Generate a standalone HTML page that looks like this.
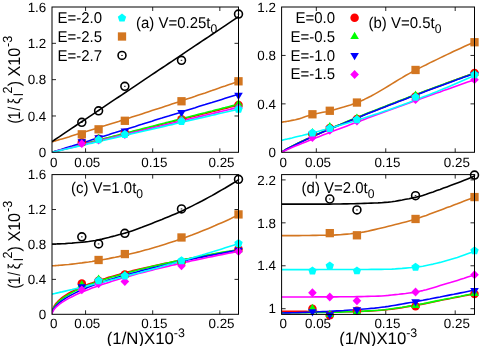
<!DOCTYPE html>
<html><head><meta charset="utf-8"><title>chart</title>
<style>
html,body{margin:0;padding:0;background:#fff;}
svg{display:block;will-change:transform;text-rendering:geometricPrecision;}
text{font-family:"Liberation Sans", sans-serif;fill:#000;}
.t{font-size:13.4px;}
.l{font-size:14.6px;}
</style></head>
<body>
<svg width="494" height="346" viewBox="0 0 494 346">
<rect width="494" height="346" fill="#fff"/>
<path d="M85.57 152.3v-4 M85.57 7v4 M152.7 152.3v-4 M152.7 7v4 M219.84 152.3v-4 M219.84 7v4 M52 115.98h4 M238.5 115.98h-4 M52 79.65h4 M238.5 79.65h-4 M52 43.33h4 M238.5 43.33h-4" stroke="#000" stroke-width="0.85" fill="none"/>
<text x="46.3" y="157" text-anchor="end" class="t">0</text>
<text x="46.3" y="120.68" text-anchor="end" class="t">0.4</text>
<text x="46.3" y="84.35" text-anchor="end" class="t">0.8</text>
<text x="46.3" y="48.03" text-anchor="end" class="t">1.2</text>
<text x="46.3" y="11.7" text-anchor="end" class="t">1.6</text>
<text x="53.7" y="166.8" text-anchor="middle" class="t">0</text>
<text x="87.27" y="166.8" text-anchor="middle" class="t">0.05</text>
<text x="154.4" y="166.8" text-anchor="middle" class="t">0.15</text>
<text x="221.54" y="166.8" text-anchor="middle" class="t">0.25</text>
<clipPath id="ca"><rect x="52" y="7" width="186.5" height="145.3"/></clipPath>
<g clip-path="url(#ca)">
<polyline points="52.0,152.3 52.0,152.3 52.2,152.3 52.3,152.2 52.6,152.1 53.0,152.0 53.4,151.9 53.9,151.8 54.4,151.7 55.1,151.5 55.3,151.4 55.8,151.3 56.6,151.1 57.5,150.9 58.4,150.6 58.7,150.6 59.5,150.3 62.0,149.7 65.3,148.8 68.7,148.0 72.0,147.1 75.3,146.3 78.6,145.4 82.0,144.6 85.3,143.7 88.6,142.9 92.0,142.0 95.3,141.2 98.6,140.3 102.0,139.5 105.3,138.6 108.6,137.8 111.9,136.9 115.3,136.1 118.6,135.3 121.9,134.4 125.3,133.6 128.6,132.7 131.9,131.9 135.3,131.0 138.6,130.2 141.9,129.4 145.2,128.5 148.6,127.7 151.9,126.8 155.2,126.0 158.6,125.2 161.9,124.3 165.2,123.5 168.6,122.6 171.9,121.8 175.2,121.0 178.6,120.1 181.9,119.3 185.2,118.5 188.5,117.6 191.9,116.8 195.2,115.9 198.5,115.1 201.9,114.3 205.2,113.4 208.5,112.6 211.9,111.8 215.2,110.9 218.5,110.1 221.8,109.3 225.2,108.4 228.5,107.6 231.8,106.7 235.2,105.9 238.5,105.1" fill="none" stroke="#ff0000" stroke-width="1.6" stroke-linejoin="round"/>
<polyline points="52.0,152.3 52.0,152.3 52.2,152.3 52.3,152.2 52.6,152.1 53.0,152.0 53.4,151.9 53.9,151.8 54.4,151.6 55.1,151.5 55.3,151.4 55.8,151.3 56.6,151.1 57.5,150.8 58.4,150.6 58.7,150.5 59.5,150.3 62.0,149.6 65.3,148.8 68.7,147.9 72.0,147.0 75.3,146.2 78.6,145.3 82.0,144.4 85.3,143.6 88.6,142.7 92.0,141.8 95.3,141.0 98.6,140.1 102.0,139.2 105.3,138.4 108.6,137.5 111.9,136.7 115.3,135.8 118.6,134.9 121.9,134.1 125.3,133.2 128.6,132.4 131.9,131.5 135.3,130.6 138.6,129.8 141.9,128.9 145.2,128.1 148.6,127.2 151.9,126.4 155.2,125.5 158.6,124.6 161.9,123.8 165.2,122.9 168.6,122.1 171.9,121.2 175.2,120.4 178.6,119.5 181.9,118.7 185.2,117.8 188.5,117.0 191.9,116.1 195.2,115.2 198.5,114.4 201.9,113.5 205.2,112.7 208.5,111.8 211.9,111.0 215.2,110.1 218.5,109.3 221.8,108.4 225.2,107.6 228.5,106.7 231.8,105.9 235.2,105.0 238.5,104.2" fill="none" stroke="#00ff00" stroke-width="1.6" stroke-linejoin="round"/>
<polyline points="52.0,152.3 52.0,152.3 52.2,152.3 52.3,152.2 52.6,152.1 53.0,152.0 53.4,151.9 53.9,151.7 54.4,151.5 55.1,151.3 55.3,151.3 55.8,151.1 56.6,150.9 57.5,150.6 58.4,150.3 58.7,150.2 59.5,150.0 62.0,149.2 65.3,148.1 68.7,147.1 72.0,146.1 75.3,145.0 78.6,144.0 82.0,143.0 85.3,141.9 88.6,140.9 92.0,139.8 95.3,138.8 98.6,137.8 102.0,136.7 105.3,135.7 108.6,134.7 111.9,133.6 115.3,132.6 118.6,131.5 121.9,130.5 125.3,129.5 128.6,128.4 131.9,127.4 135.3,126.4 138.6,125.3 141.9,124.3 145.2,123.2 148.6,122.2 151.9,121.2 155.2,120.1 158.6,119.1 161.9,118.1 165.2,117.0 168.6,116.0 171.9,114.9 175.2,113.9 178.6,112.9 181.9,111.8 185.2,110.8 188.5,109.7 191.9,108.7 195.2,107.7 198.5,106.6 201.9,105.6 205.2,104.6 208.5,103.5 211.9,102.5 215.2,101.4 218.5,100.4 221.8,99.4 225.2,98.3 228.5,97.3 231.8,96.3 235.2,95.2 238.5,94.2" fill="none" stroke="#0000ff" stroke-width="1.6" stroke-linejoin="round"/>
<polyline points="52.0,152.3 52.0,152.3 52.2,152.3 52.3,152.2 52.6,152.1 53.0,152.1 53.4,152.0 53.9,151.8 54.4,151.7 55.1,151.5 55.3,151.5 55.8,151.3 56.6,151.1 57.5,150.9 58.4,150.7 58.7,150.6 59.5,150.4 62.0,149.8 65.3,149.0 68.7,148.2 72.0,147.4 75.3,146.6 78.6,145.8 82.0,144.9 85.3,144.1 88.6,143.3 92.0,142.5 95.3,141.7 98.6,140.9 102.0,140.1 105.3,139.3 108.6,138.5 111.9,137.7 115.3,136.9 118.6,136.1 121.9,135.3 125.3,134.5 128.6,133.7 131.9,132.9 135.3,132.1 138.6,131.3 141.9,130.5 145.2,129.7 148.6,128.9 151.9,128.1 155.2,127.3 158.6,126.5 161.9,125.7 165.2,124.9 168.6,124.1 171.9,123.3 175.2,122.5 178.6,121.7 181.9,120.9 185.2,120.1 188.5,119.3 191.9,118.5 195.2,117.7 198.5,116.9 201.9,116.1 205.2,115.3 208.5,114.5 211.9,113.7 215.2,112.9 218.5,112.1 221.8,111.3 225.2,110.5 228.5,109.7 231.8,108.9 235.2,108.1 238.5,107.3" fill="none" stroke="#ff00ff" stroke-width="1.6" stroke-linejoin="round"/>
<polyline points="52.0,152.3 52.0,152.3 52.2,152.3 52.3,152.2 52.6,152.2 53.0,152.1 53.4,152.0 53.9,151.9 54.4,151.7 55.1,151.6 55.3,151.5 55.8,151.4 56.6,151.2 57.5,151.0 58.4,150.8 58.7,150.8 59.5,150.6 62.0,150.0 65.3,149.2 68.7,148.4 72.0,147.7 75.3,146.9 78.6,146.1 82.0,145.4 85.3,144.6 88.6,143.8 92.0,143.1 95.3,142.3 98.6,141.5 102.0,140.7 105.3,140.0 108.6,139.2 111.9,138.4 115.3,137.7 118.6,136.9 121.9,136.1 125.3,135.4 128.6,134.6 131.9,133.8 135.3,133.0 138.6,132.3 141.9,131.5 145.2,130.7 148.6,130.0 151.9,129.2 155.2,128.4 158.6,127.7 161.9,126.9 165.2,126.1 168.6,125.3 171.9,124.6 175.2,123.8 178.6,123.0 181.9,122.3 185.2,121.5 188.5,120.7 191.9,119.9 195.2,119.2 198.5,118.4 201.9,117.6 205.2,116.9 208.5,116.1 211.9,115.3 215.2,114.6 218.5,113.8 221.8,113.0 225.2,112.2 228.5,111.5 231.8,110.7 235.2,109.9 238.5,109.2" fill="none" stroke="#00ffff" stroke-width="1.6" stroke-linejoin="round"/>
<polyline points="52.0,141.9 52.0,141.8 52.2,141.8 52.3,141.8 52.6,141.7 53.0,141.6 53.4,141.4 53.9,141.3 54.4,141.1 55.1,140.9 55.3,140.9 55.8,140.7 56.6,140.5 57.5,140.2 58.4,139.9 58.7,139.9 59.5,139.6 62.0,138.9 65.3,137.9 68.7,136.9 72.0,135.8 75.3,134.8 78.6,133.8 82.0,132.8 85.3,131.8 88.6,130.7 92.0,129.7 95.3,128.7 98.6,127.6 102.0,126.6 105.3,125.6 108.6,124.5 111.9,123.5 115.3,122.4 118.6,121.4 121.9,120.3 125.3,119.2 128.6,118.2 131.9,117.1 135.3,116.0 138.6,115.0 141.9,113.9 145.2,112.8 148.6,111.7 151.9,110.6 155.2,109.6 158.6,108.5 161.9,107.4 165.2,106.3 168.6,105.2 171.9,104.1 175.2,103.0 178.6,101.9 181.9,100.7 185.2,99.6 188.5,98.5 191.9,97.4 195.2,96.3 198.5,95.1 201.9,94.0 205.2,92.9 208.5,91.7 211.9,90.6 215.2,89.4 218.5,88.3 221.8,87.1 225.2,86.0 228.5,84.8 231.8,83.7 235.2,82.5 238.5,81.3" fill="none" stroke="#d37620" stroke-width="1.6" stroke-linejoin="round"/>
<polyline points="52.0,141.6 52.0,141.6 52.2,141.5 52.3,141.4 52.6,141.2 53.0,140.9 53.4,140.7 53.9,140.3 54.4,140.0 55.1,139.5 55.3,139.4 55.8,139.0 56.6,138.5 57.5,137.9 58.4,137.3 58.7,137.1 59.5,136.6 62.0,134.9 65.3,132.7 68.7,130.4 72.0,128.2 75.3,126.0 78.6,123.7 82.0,121.5 85.3,119.3 88.6,117.1 92.0,114.8 95.3,112.6 98.6,110.4 102.0,108.1 105.3,105.9 108.6,103.7 111.9,101.4 115.3,99.2 118.6,97.0 121.9,94.8 125.3,92.5 128.6,90.3 131.9,88.1 135.3,85.8 138.6,83.6 141.9,81.4 145.2,79.1 148.6,76.9 151.9,74.7 155.2,72.5 158.6,70.2 161.9,68.0 165.2,65.8 168.6,63.5 171.9,61.3 175.2,59.1 178.6,56.8 181.9,54.6 185.2,52.4 188.5,50.2 191.9,47.9 195.2,45.7 198.5,43.5 201.9,41.2 205.2,39.0 208.5,36.8 211.9,34.5 215.2,32.3 218.5,30.1 221.8,27.9 225.2,25.6 228.5,23.4 231.8,21.2 235.2,18.9 238.5,16.7" fill="none" stroke="#000000" stroke-width="1.6" stroke-linejoin="round"/>
</g>
<circle cx="81.81" cy="142.13" r="4.25" fill="#ff0000"/>
<circle cx="98.59" cy="138.68" r="4.25" fill="#ff0000"/>
<circle cx="124.84" cy="132.78" r="4.25" fill="#ff0000"/>
<circle cx="181.5" cy="119.15" r="4.25" fill="#ff0000"/>
<circle cx="238.5" cy="105.08" r="4.25" fill="#ff0000"/>
<polygon points="81.81,137.91 77.51,145.21 86.11,145.21" fill="#00ff00"/>
<polygon points="98.59,133.83 94.29,141.13 102.89,141.13" fill="#00ff00"/>
<polygon points="124.84,128.38 120.54,135.68 129.14,135.68" fill="#00ff00"/>
<polygon points="181.5,113.4 177.2,120.7 185.8,120.7" fill="#00ff00"/>
<polygon points="238.5,99.32 234.2,106.62 242.8,106.62" fill="#00ff00"/>
<polygon points="81.81,146.62 77.51,139.32 86.11,139.32" fill="#0000ff"/>
<polygon points="98.59,142.62 94.29,135.32 102.89,135.32" fill="#0000ff"/>
<polygon points="124.84,135.81 120.54,128.51 129.14,128.51" fill="#0000ff"/>
<polygon points="181.5,117.19 177.2,109.89 185.8,109.89" fill="#0000ff"/>
<polygon points="238.5,100.12 234.2,92.82 242.8,92.82" fill="#0000ff"/>
<polygon points="81.81,139.22 86.12,143.67 81.81,148.12 77.49,143.67" fill="#ff00ff"/>
<polygon points="98.59,135.59 102.91,140.04 98.59,144.49 94.27,140.04" fill="#ff00ff"/>
<polygon points="124.84,130.14 129.16,134.59 124.84,139.04 120.52,134.59" fill="#ff00ff"/>
<polygon points="181.5,116.07 185.82,120.52 181.5,124.97 177.19,120.52" fill="#ff00ff"/>
<polygon points="238.5,103.35 242.82,107.8 238.5,112.25 234.18,107.8" fill="#ff00ff"/>
<polygon points="98.59,135.37 102.78,138.41 101.18,143.33 96.01,143.33 94.41,138.41" fill="#00ffff"/>
<polygon points="124.84,129.92 129.03,132.96 127.43,137.88 122.25,137.88 120.66,132.96" fill="#00ffff"/>
<polygon points="181.5,117.02 185.69,120.06 184.09,124.98 178.92,124.98 177.32,120.06" fill="#00ffff"/>
<polygon points="238.5,104.86 242.68,107.9 241.09,112.82 235.91,112.82 234.32,107.9" fill="#00ffff"/>
<rect x="77.66" y="130.17" width="8.3" height="8.3" fill="#d37620"/>
<rect x="94.44" y="125.18" width="8.3" height="8.3" fill="#d37620"/>
<rect x="120.69" y="116.64" width="8.3" height="8.3" fill="#d37620"/>
<rect x="177.35" y="97.11" width="8.3" height="8.3" fill="#d37620"/>
<rect x="234.35" y="77.14" width="8.3" height="8.3" fill="#d37620"/>
<circle cx="81.81" cy="122.33" r="3.95" fill="none" stroke="#000" stroke-width="1.6"/><rect x="81.01" y="121.88" width="1.6" height="0.9" fill="#000"/>
<circle cx="98.59" cy="110.8" r="3.95" fill="none" stroke="#000" stroke-width="1.6"/><rect x="97.79" y="110.35" width="1.6" height="0.9" fill="#000"/>
<circle cx="124.84" cy="86.28" r="3.95" fill="none" stroke="#000" stroke-width="1.6"/><rect x="124.04" y="85.83" width="1.6" height="0.9" fill="#000"/>
<circle cx="181.5" cy="60.31" r="3.95" fill="none" stroke="#000" stroke-width="1.6"/><rect x="180.7" y="59.86" width="1.6" height="0.9" fill="#000"/>
<circle cx="238.5" cy="14.09" r="3.95" fill="none" stroke="#000" stroke-width="1.6"/><rect x="237.7" y="13.64" width="1.6" height="0.9" fill="#000"/>
<rect x="52" y="7" width="186.5" height="145.3" fill="none" stroke="#000" stroke-width="1"/>
<path d="M316.32 152.3v-4 M316.32 7v4 M385.76 152.3v-4 M385.76 7v4 M455.2 152.3v-4 M455.2 7v4 M281.6 103.87h4 M474.5 103.87h-4 M281.6 55.44h4 M474.5 55.44h-4" stroke="#000" stroke-width="0.85" fill="none"/>
<text x="275.9" y="157" text-anchor="end" class="t">0</text>
<text x="275.9" y="108.57" text-anchor="end" class="t">0.4</text>
<text x="275.9" y="60.14" text-anchor="end" class="t">0.8</text>
<text x="275.9" y="11.7" text-anchor="end" class="t">1.2</text>
<text x="283.3" y="166.8" text-anchor="middle" class="t">0</text>
<text x="318.02" y="166.8" text-anchor="middle" class="t">0.05</text>
<text x="387.46" y="166.8" text-anchor="middle" class="t">0.15</text>
<text x="456.9" y="166.8" text-anchor="middle" class="t">0.25</text>
<clipPath id="cb"><rect x="281.6" y="7" width="192.9" height="145.3"/></clipPath>
<g clip-path="url(#cb)">
<polyline points="281.6,152.3 281.6,152.3 281.8,152.2 282.0,152.0 282.2,151.8 282.6,151.6 283.0,151.3 283.5,151.0 284.1,150.6 284.8,150.2 285.0,150.1 285.5,149.8 286.4,149.3 287.3,148.8 288.3,148.3 288.5,148.1 289.3,147.7 291.9,146.4 295.4,144.6 298.8,143.0 302.3,141.3 305.7,139.7 309.2,138.1 312.6,136.6 316.0,135.0 319.5,133.5 322.9,132.0 326.4,130.5 329.8,129.0 333.3,127.6 336.7,126.1 340.2,124.7 343.6,123.3 347.0,121.8 350.5,120.4 353.9,119.0 357.4,117.6 360.8,116.2 364.3,114.8 367.7,113.5 371.2,112.1 374.6,110.7 378.1,109.4 381.5,108.0 384.9,106.7 388.4,105.3 391.8,104.0 395.3,102.6 398.7,101.3 402.2,100.0 405.6,98.7 409.1,97.3 412.5,96.0 415.9,94.7 419.4,93.4 422.8,92.1 426.3,90.8 429.7,89.5 433.2,88.2 436.6,86.9 440.1,85.7 443.5,84.4 446.9,83.1 450.4,81.8 453.8,80.6 457.3,79.3 460.7,78.0 464.2,76.8 467.6,75.5 471.1,74.2 474.5,73.0" fill="none" stroke="#ff0000" stroke-width="1.6" stroke-linejoin="round"/>
<polyline points="281.6,152.3 281.6,152.3 281.8,152.1 282.0,152.0 282.2,151.8 282.6,151.5 283.0,151.2 283.5,150.9 284.1,150.5 284.8,150.1 285.0,150.0 285.5,149.7 286.4,149.2 287.3,148.7 288.3,148.1 288.5,148.0 289.3,147.6 291.9,146.2 295.4,144.4 298.8,142.7 302.3,141.1 305.7,139.4 309.2,137.9 312.6,136.3 316.0,134.7 319.5,133.2 322.9,131.7 326.4,130.2 329.8,128.7 333.3,127.3 336.7,125.8 340.2,124.4 343.6,122.9 347.0,121.5 350.5,120.1 353.9,118.7 357.4,117.3 360.8,115.9 364.3,114.5 367.7,113.1 371.2,111.8 374.6,110.4 378.1,109.1 381.5,107.7 384.9,106.4 388.4,105.0 391.8,103.7 395.3,102.4 398.7,101.1 402.2,99.7 405.6,98.4 409.1,97.1 412.5,95.8 415.9,94.5 419.4,93.2 422.8,91.9 426.3,90.6 429.7,89.4 433.2,88.1 436.6,86.8 440.1,85.5 443.5,84.3 446.9,83.0 450.4,81.7 453.8,80.5 457.3,79.2 460.7,78.0 464.2,76.7 467.6,75.5 471.1,74.2 474.5,73.0" fill="none" stroke="#00ff00" stroke-width="1.6" stroke-linejoin="round"/>
<polyline points="281.6,152.3 281.6,152.3 281.8,152.2 282.0,152.0 282.2,151.8 282.6,151.6 283.0,151.3 283.5,151.0 284.1,150.6 284.8,150.2 285.0,150.1 285.5,149.8 286.4,149.3 287.3,148.8 288.3,148.3 288.5,148.2 289.3,147.7 291.9,146.4 295.4,144.7 298.8,143.0 302.3,141.4 305.7,139.8 309.2,138.2 312.6,136.6 316.0,135.1 319.5,133.6 322.9,132.1 326.4,130.6 329.8,129.2 333.3,127.7 336.7,126.2 340.2,124.8 343.6,123.4 347.0,122.0 350.5,120.6 353.9,119.2 357.4,117.8 360.8,116.4 364.3,115.0 367.7,113.6 371.2,112.3 374.6,110.9 378.1,109.6 381.5,108.2 384.9,106.9 388.4,105.5 391.8,104.2 395.3,102.9 398.7,101.5 402.2,100.2 405.6,98.9 409.1,97.6 412.5,96.3 415.9,95.0 419.4,93.7 422.8,92.4 426.3,91.1 429.7,89.8 433.2,88.5 436.6,87.2 440.1,86.0 443.5,84.7 446.9,83.4 450.4,82.2 453.8,80.9 457.3,79.6 460.7,78.4 464.2,77.1 467.6,75.9 471.1,74.6 474.5,73.4" fill="none" stroke="#0000ff" stroke-width="1.6" stroke-linejoin="round"/>
<polyline points="281.6,152.3 281.6,152.3 281.8,152.2 282.0,152.1 282.2,152.0 282.6,151.8 283.0,151.6 283.5,151.3 284.1,151.0 284.8,150.7 285.0,150.6 285.5,150.4 286.4,150.0 287.3,149.6 288.3,149.2 288.5,149.1 289.3,148.7 291.9,147.6 295.4,146.1 298.8,144.7 302.3,143.3 305.7,141.9 309.2,140.5 312.6,139.2 316.0,137.8 319.5,136.4 322.9,135.1 326.4,133.8 329.8,132.4 333.3,131.1 336.7,129.8 340.2,128.5 343.6,127.2 347.0,125.9 350.5,124.6 353.9,123.3 357.4,122.0 360.8,120.7 364.3,119.4 367.7,118.1 371.2,116.8 374.6,115.6 378.1,114.3 381.5,113.0 384.9,111.8 388.4,110.5 391.8,109.2 395.3,108.0 398.7,106.7 402.2,105.5 405.6,104.2 409.1,103.0 412.5,101.7 415.9,100.5 419.4,99.3 422.8,98.0 426.3,96.8 429.7,95.6 433.2,94.3 436.6,93.1 440.1,91.9 443.5,90.6 446.9,89.4 450.4,88.2 453.8,87.0 457.3,85.7 460.7,84.5 464.2,83.3 467.6,82.1 471.1,80.9 474.5,79.7" fill="none" stroke="#ff00ff" stroke-width="1.6" stroke-linejoin="round"/>
<polyline points="281.6,140.3 281.6,140.3 281.8,140.3 282.0,140.2 282.2,140.2 282.6,140.1 283.0,140.0 283.5,139.9 284.1,139.8 284.8,139.6 285.0,139.5 285.5,139.4 286.4,139.2 287.3,139.0 288.3,138.8 288.5,138.8 289.3,138.6 291.9,138.0 295.4,137.1 298.8,136.3 302.3,135.5 305.7,134.6 309.2,133.8 312.6,132.9 316.0,132.0 319.5,131.1 322.9,130.1 326.4,129.2 329.8,128.2 333.3,127.3 336.7,126.3 340.2,125.3 343.6,124.3 347.0,123.3 350.5,122.2 353.9,121.2 357.4,120.1 360.8,119.0 364.3,117.9 367.7,116.8 371.2,115.7 374.6,114.6 378.1,113.4 381.5,112.2 384.9,111.1 388.4,109.9 391.8,108.7 395.3,107.4 398.7,106.2 402.2,104.9 405.6,103.7 409.1,102.4 412.5,101.1 415.9,99.8 419.4,98.5 422.8,97.1 426.3,95.8 429.7,94.4 433.2,93.0 436.6,91.7 440.1,90.2 443.5,88.8 446.9,87.4 450.4,85.9 453.8,84.5 457.3,83.0 460.7,81.5 464.2,80.0 467.6,78.5 471.1,76.9 474.5,75.4" fill="none" stroke="#00ffff" stroke-width="1.6" stroke-linejoin="round"/>
<polyline points="281.6,122.2 281.6,122.1 281.8,122.1 282.0,122.1 282.2,122.1 282.6,122.0 283.0,122.0 283.5,121.9 284.1,121.8 284.8,121.7 285.0,121.7 285.5,121.6 286.4,121.5 287.3,121.3 288.3,121.2 288.5,121.1 289.3,121.0 291.9,120.4 295.4,119.7 298.8,118.9 302.3,117.8 305.7,116.6 309.2,115.5 312.6,114.5 316.0,113.7 319.5,113.0 322.9,112.3 326.4,111.7 329.8,110.9 333.3,110.0 336.7,109.1 340.2,108.1 343.6,107.1 347.0,106.0 350.5,104.9 353.9,103.7 357.4,102.4 360.8,101.0 364.3,99.4 367.7,97.7 371.2,96.0 374.6,94.1 378.1,92.1 381.5,90.1 384.9,88.1 388.4,86.0 391.8,83.9 395.3,81.7 398.7,79.6 402.2,77.6 405.6,75.5 409.1,73.6 412.5,71.7 415.9,69.9 419.4,68.1 422.8,66.4 426.3,64.7 429.7,62.9 433.2,61.2 436.6,59.6 440.1,57.9 443.5,56.2 446.9,54.6 450.4,53.0 453.8,51.3 457.3,49.7 460.7,48.2 464.2,46.6 467.6,45.0 471.1,43.5 474.5,42.0" fill="none" stroke="#d37620" stroke-width="1.6" stroke-linejoin="round"/>
</g>
<circle cx="312.43" cy="134.14" r="4.25" fill="#ff0000"/>
<circle cx="329.79" cy="128.08" r="4.25" fill="#ff0000"/>
<circle cx="356.94" cy="119" r="4.25" fill="#ff0000"/>
<circle cx="415.55" cy="96.6" r="4.25" fill="#ff0000"/>
<circle cx="474.5" cy="72.99" r="4.25" fill="#ff0000"/>
<polygon points="312.43,128.08 308.13,135.38 316.73,135.38" fill="#00ff00"/>
<polygon points="329.79,122.02 325.49,129.32 334.09,129.32" fill="#00ff00"/>
<polygon points="356.94,113.55 352.64,120.85 361.24,120.85" fill="#00ff00"/>
<polygon points="415.55,90.54 411.25,97.84 419.85,97.84" fill="#00ff00"/>
<polygon points="474.5,68.75 470.2,76.05 478.8,76.05" fill="#00ff00"/>
<polygon points="312.43,139.59 308.13,132.29 316.73,132.29" fill="#0000ff"/>
<polygon points="329.79,133.54 325.49,126.24 334.09,126.24" fill="#0000ff"/>
<polygon points="356.94,124.46 352.64,117.16 361.24,117.16" fill="#0000ff"/>
<polygon points="415.55,102.06 411.25,94.76 419.85,94.76" fill="#0000ff"/>
<polygon points="474.5,79.66 470.2,72.36 478.8,72.36" fill="#0000ff"/>
<polygon points="312.43,133.08 316.75,137.53 312.43,141.98 308.11,137.53" fill="#ff00ff"/>
<polygon points="329.79,125.81 334.11,130.26 329.79,134.71 325.47,130.26" fill="#ff00ff"/>
<polygon points="356.94,116.61 361.26,121.06 356.94,125.51 352.62,121.06" fill="#ff00ff"/>
<polygon points="415.55,95.18 419.86,99.63 415.55,104.08 411.23,99.63" fill="#ff00ff"/>
<polygon points="474.5,75.2 478.82,79.65 474.5,84.1 470.18,79.65" fill="#ff00ff"/>
<polygon points="312.43,128.53 316.62,131.57 315.02,136.49 309.84,136.49 308.25,131.57" fill="#00ffff"/>
<polygon points="329.79,123.93 333.97,126.97 332.38,131.89 327.2,131.89 325.61,126.97" fill="#00ffff"/>
<polygon points="356.94,115.21 361.13,118.25 359.53,123.17 354.35,123.17 352.76,118.25" fill="#00ffff"/>
<polygon points="415.55,92.81 419.73,95.85 418.13,100.77 412.96,100.77 411.36,95.85" fill="#00ffff"/>
<polygon points="474.5,70.17 478.68,73.21 477.09,78.13 471.91,78.13 470.32,73.21" fill="#00ffff"/>
<rect x="308.28" y="110.13" width="8.3" height="8.3" fill="#d37620"/>
<rect x="325.64" y="106.62" width="8.3" height="8.3" fill="#d37620"/>
<rect x="352.79" y="98.39" width="8.3" height="8.3" fill="#d37620"/>
<rect x="411.4" y="65.82" width="8.3" height="8.3" fill="#d37620"/>
<rect x="470.35" y="38.09" width="8.3" height="8.3" fill="#d37620"/>
<rect x="281.6" y="7" width="192.9" height="145.3" fill="none" stroke="#000" stroke-width="1"/>
<path d="M85.57 314.3v-4 M85.57 174.6v4 M152.7 314.3v-4 M152.7 174.6v4 M219.84 314.3v-4 M219.84 174.6v4 M52 279.38h4 M238.5 279.38h-4 M52 244.45h4 M238.5 244.45h-4 M52 209.53h4 M238.5 209.53h-4" stroke="#000" stroke-width="0.85" fill="none"/>
<text x="46.3" y="319" text-anchor="end" class="t">0</text>
<text x="46.3" y="284.08" text-anchor="end" class="t">0.4</text>
<text x="46.3" y="249.15" text-anchor="end" class="t">0.8</text>
<text x="46.3" y="214.23" text-anchor="end" class="t">1.2</text>
<text x="46.3" y="179.3" text-anchor="end" class="t">1.6</text>
<text x="53.7" y="328.3" text-anchor="middle" class="t">0</text>
<text x="87.27" y="328.3" text-anchor="middle" class="t">0.05</text>
<text x="154.4" y="328.3" text-anchor="middle" class="t">0.15</text>
<text x="221.54" y="328.3" text-anchor="middle" class="t">0.25</text>
<clipPath id="cc"><rect x="52" y="174.6" width="186.5" height="139.7"/></clipPath>
<g clip-path="url(#cc)">
<polyline points="52.0,314.3 52.0,313.0 52.2,311.9 52.3,310.8 52.6,309.8 53.0,308.7 53.4,307.7 53.9,306.7 54.4,305.7 55.1,304.7 55.3,304.3 55.8,303.7 56.6,302.7 57.5,301.8 58.4,300.8 58.7,300.6 59.5,299.8 62.0,297.7 65.3,295.4 68.7,293.3 72.0,291.5 75.3,289.8 78.6,288.2 82.0,286.8 85.3,285.4 88.6,284.1 92.0,282.9 95.3,281.7 98.6,280.5 102.0,279.4 105.3,278.4 108.6,277.3 111.9,276.4 115.3,275.4 118.6,274.5 121.9,273.5 125.3,272.7 128.6,271.8 131.9,270.9 135.3,270.1 138.6,269.3 141.9,268.5 145.2,267.7 148.6,267.0 151.9,266.2 155.2,265.5 158.6,264.8 161.9,264.1 165.2,263.4 168.6,262.7 171.9,262.0 175.2,261.3 178.6,260.7 181.9,260.0 185.2,259.4 188.5,258.8 191.9,258.1 195.2,257.5 198.5,256.9 201.9,256.3 205.2,255.7 208.5,255.1 211.9,254.5 215.2,254.0 218.5,253.4 221.8,252.8 225.2,252.3 228.5,251.7 231.8,251.2 235.2,250.7 238.5,250.1" fill="none" stroke="#ff0000" stroke-width="1.6" stroke-linejoin="round"/>
<polyline points="52.0,314.3 52.0,313.3 52.2,312.3 52.3,311.3 52.6,310.4 53.0,309.4 53.4,308.5 53.9,307.5 54.4,306.6 55.1,305.6 55.3,305.3 55.8,304.7 56.6,303.7 57.5,302.8 58.4,301.9 58.7,301.6 59.5,300.9 62.0,298.9 65.3,296.5 68.7,294.5 72.0,292.6 75.3,290.9 78.6,289.3 82.0,287.8 85.3,286.4 88.6,285.1 92.0,283.8 95.3,282.6 98.6,281.5 102.0,280.3 105.3,279.2 108.6,278.2 111.9,277.1 115.3,276.2 118.6,275.2 121.9,274.2 125.3,273.3 128.6,272.4 131.9,271.5 135.3,270.7 138.6,269.8 141.9,269.0 145.2,268.2 148.6,267.4 151.9,266.6 155.2,265.8 158.6,265.0 161.9,264.3 165.2,263.6 168.6,262.8 171.9,262.1 175.2,261.4 178.6,260.7 181.9,260.0 185.2,259.4 188.5,258.7 191.9,258.0 195.2,257.4 198.5,256.7 201.9,256.1 205.2,255.5 208.5,254.8 211.9,254.2 215.2,253.6 218.5,253.0 221.8,252.4 225.2,251.8 228.5,251.2 231.8,250.7 235.2,250.1 238.5,249.5" fill="none" stroke="#00ff00" stroke-width="1.6" stroke-linejoin="round"/>
<polyline points="52.0,314.3 52.0,313.6 52.2,312.8 52.3,312.0 52.6,311.2 53.0,310.3 53.4,309.5 53.9,308.7 54.4,307.8 55.1,306.9 55.3,306.6 55.8,306.1 56.6,305.2 57.5,304.3 58.4,303.5 58.7,303.2 59.5,302.6 62.0,300.6 65.3,298.4 68.7,296.4 72.0,294.6 75.3,292.9 78.6,291.3 82.0,289.8 85.3,288.4 88.6,287.1 92.0,285.8 95.3,284.6 98.6,283.4 102.0,282.3 105.3,281.2 108.6,280.1 111.9,279.0 115.3,278.0 118.6,277.0 121.9,276.1 125.3,275.1 128.6,274.2 131.9,273.3 135.3,272.4 138.6,271.5 141.9,270.6 145.2,269.8 148.6,268.9 151.9,268.1 155.2,267.3 158.6,266.5 161.9,265.7 165.2,265.0 168.6,264.2 171.9,263.5 175.2,262.7 178.6,262.0 181.9,261.3 185.2,260.6 188.5,259.8 191.9,259.1 195.2,258.5 198.5,257.8 201.9,257.1 205.2,256.4 208.5,255.8 211.9,255.1 215.2,254.5 218.5,253.8 221.8,253.2 225.2,252.6 228.5,251.9 231.8,251.3 235.2,250.7 238.5,250.1" fill="none" stroke="#0000ff" stroke-width="1.6" stroke-linejoin="round"/>
<polyline points="52.0,314.3 52.0,313.8 52.2,313.2 52.3,312.6 52.6,311.9 53.0,311.2 53.4,310.5 53.9,309.7 54.4,309.0 55.1,308.2 55.3,307.9 55.8,307.4 56.6,306.7 57.5,305.9 58.4,305.1 58.7,304.9 59.5,304.2 62.0,302.4 65.3,300.3 68.7,298.4 72.0,296.7 75.3,295.0 78.6,293.5 82.0,292.1 85.3,290.7 88.6,289.4 92.0,288.1 95.3,286.9 98.6,285.7 102.0,284.6 105.3,283.5 108.6,282.4 111.9,281.3 115.3,280.3 118.6,279.3 121.9,278.3 125.3,277.3 128.6,276.4 131.9,275.4 135.3,274.5 138.6,273.6 141.9,272.7 145.2,271.9 148.6,271.0 151.9,270.2 155.2,269.3 158.6,268.5 161.9,267.7 165.2,266.9 168.6,266.1 171.9,265.3 175.2,264.6 178.6,263.8 181.9,263.0 185.2,262.3 188.5,261.6 191.9,260.8 195.2,260.1 198.5,259.4 201.9,258.7 205.2,258.0 208.5,257.3 211.9,256.6 215.2,255.9 218.5,255.2 221.8,254.6 225.2,253.9 228.5,253.2 231.8,252.6 235.2,251.9 238.5,251.3" fill="none" stroke="#ff00ff" stroke-width="1.6" stroke-linejoin="round"/>
<polyline points="52.0,294.1 52.0,294.1 52.2,294.1 52.3,294.1 52.6,294.0 53.0,293.9 53.4,293.8 53.9,293.7 54.4,293.6 55.1,293.4 55.3,293.4 55.8,293.3 56.6,293.1 57.5,292.9 58.4,292.7 58.7,292.6 59.5,292.4 62.0,291.9 65.3,291.1 68.7,290.3 72.0,289.6 75.3,288.8 78.6,288.0 82.0,287.2 85.3,286.4 88.6,285.6 92.0,284.8 95.3,284.0 98.6,283.2 102.0,282.3 105.3,281.5 108.6,280.7 111.9,279.8 115.3,279.0 118.6,278.1 121.9,277.3 125.3,276.4 128.6,275.5 131.9,274.6 135.3,273.8 138.6,272.9 141.9,272.0 145.2,271.1 148.6,270.2 151.9,269.3 155.2,268.4 158.6,267.4 161.9,266.5 165.2,265.6 168.6,264.6 171.9,263.7 175.2,262.7 178.6,261.8 181.9,260.8 185.2,259.9 188.5,258.9 191.9,257.9 195.2,256.9 198.5,255.9 201.9,255.0 205.2,254.0 208.5,252.9 211.9,251.9 215.2,250.9 218.5,249.9 221.8,248.9 225.2,247.8 228.5,246.8 231.8,245.8 235.2,244.7 238.5,243.7" fill="none" stroke="#00ffff" stroke-width="1.6" stroke-linejoin="round"/>
<polyline points="52.0,265.8 52.0,265.8 52.2,265.8 52.3,265.8 52.6,265.8 53.0,265.8 53.4,265.8 53.9,265.7 54.4,265.7 55.1,265.6 55.3,265.6 55.8,265.6 56.6,265.5 57.5,265.5 58.4,265.4 58.7,265.4 59.5,265.3 62.0,265.1 65.3,264.8 68.7,264.5 72.0,264.1 75.3,263.7 78.6,263.3 82.0,262.9 85.3,262.4 88.6,262.0 92.0,261.5 95.3,260.9 98.6,260.4 102.0,259.8 105.3,259.2 108.6,258.6 111.9,257.9 115.3,257.3 118.6,256.6 121.9,255.8 125.3,255.1 128.6,254.3 131.9,253.5 135.3,252.7 138.6,251.9 141.9,251.0 145.2,250.1 148.6,249.2 151.9,248.2 155.2,247.3 158.6,246.3 161.9,245.2 165.2,244.2 168.6,243.1 171.9,242.0 175.2,240.9 178.6,239.8 181.9,238.6 185.2,237.4 188.5,236.2 191.9,235.0 195.2,233.7 198.5,232.4 201.9,231.1 205.2,229.7 208.5,228.4 211.9,227.0 215.2,225.6 218.5,224.1 221.8,222.7 225.2,221.2 228.5,219.7 231.8,218.1 235.2,216.6 238.5,215.0" fill="none" stroke="#d37620" stroke-width="1.6" stroke-linejoin="round"/>
<polyline points="52.0,244.0 52.0,244.0 52.2,244.0 52.3,244.0 52.6,244.0 53.0,244.0 53.4,244.0 53.9,244.0 54.4,244.0 55.1,244.0 55.3,244.0 55.8,244.0 56.6,244.0 57.5,243.9 58.4,243.9 58.7,243.9 59.5,243.9 62.0,243.8 65.3,243.6 68.7,243.3 72.0,243.1 75.3,242.8 78.6,242.5 82.0,242.2 85.3,241.9 88.6,241.5 92.0,241.0 95.3,240.5 98.6,239.8 102.0,239.1 105.3,238.3 108.6,237.5 111.9,236.6 115.3,235.8 118.6,234.8 121.9,233.9 125.3,233.0 128.6,232.0 131.9,230.9 135.3,229.7 138.6,228.5 141.9,227.3 145.2,226.0 148.6,224.7 151.9,223.4 155.2,222.1 158.6,220.8 161.9,219.5 165.2,218.1 168.6,216.7 171.9,215.3 175.2,213.9 178.6,212.4 181.9,210.9 185.2,209.4 188.5,207.8 191.9,206.1 195.2,204.4 198.5,202.7 201.9,201.0 205.2,199.2 208.5,197.4 211.9,195.6 215.2,193.7 218.5,191.8 221.8,189.9 225.2,188.0 228.5,186.0 231.8,184.0 235.2,181.9 238.5,179.8" fill="none" stroke="#000000" stroke-width="1.6" stroke-linejoin="round"/>
</g>
<circle cx="81.81" cy="283.48" r="4.25" fill="#ff0000"/>
<circle cx="98.59" cy="280.69" r="4.25" fill="#ff0000"/>
<circle cx="124.84" cy="274.57" r="4.25" fill="#ff0000"/>
<circle cx="181.5" cy="261.91" r="4.25" fill="#ff0000"/>
<circle cx="238.5" cy="249.25" r="4.25" fill="#ff0000"/>
<polygon points="81.81,279.94 77.51,287.24 86.11,287.24" fill="#00ff00"/>
<polygon points="98.59,274.53 94.29,281.83 102.89,281.83" fill="#00ff00"/>
<polygon points="124.84,270.16 120.54,277.46 129.14,277.46" fill="#00ff00"/>
<polygon points="181.5,257.06 177.2,264.36 185.8,264.36" fill="#00ff00"/>
<polygon points="238.5,244.84 234.2,252.14 242.8,252.14" fill="#00ff00"/>
<polygon points="81.81,291.65 77.51,284.35 86.11,284.35" fill="#0000ff"/>
<polygon points="98.59,286.85 94.29,279.55 102.89,279.55" fill="#0000ff"/>
<polygon points="124.84,280.73 120.54,273.43 129.14,273.43" fill="#0000ff"/>
<polygon points="181.5,267.64 177.2,260.34 185.8,260.34" fill="#0000ff"/>
<polygon points="238.5,254.98 234.2,247.68 242.8,247.68" fill="#0000ff"/>
<polygon points="81.81,285.4 86.12,289.85 81.81,294.3 77.49,289.85" fill="#ff00ff"/>
<polygon points="98.59,279.29 102.91,283.74 98.59,288.19 94.27,283.74" fill="#ff00ff"/>
<polygon points="124.84,277.11 129.16,281.56 124.84,286.01 120.52,281.56" fill="#ff00ff"/>
<polygon points="181.5,261.39 185.82,265.84 181.5,270.29 177.19,265.84" fill="#ff00ff"/>
<polygon points="238.5,246.99 242.82,251.44 238.5,255.89 234.18,251.44" fill="#ff00ff"/>
<polygon points="98.59,276.29 102.78,279.33 101.18,284.25 96.01,284.25 94.41,279.33" fill="#00ffff"/>
<polygon points="124.84,271.48 129.03,274.52 127.43,279.44 122.25,279.44 120.66,274.52" fill="#00ffff"/>
<polygon points="181.5,256.2 185.69,259.24 184.09,264.16 178.92,264.16 177.32,259.24" fill="#00ffff"/>
<polygon points="238.5,239 242.68,242.04 241.09,246.96 235.91,246.96 234.32,242.04" fill="#00ffff"/>
<rect x="94.44" y="255.84" width="8.3" height="8.3" fill="#d37620"/>
<rect x="120.69" y="249.91" width="8.3" height="8.3" fill="#d37620"/>
<rect x="177.35" y="233.32" width="8.3" height="8.3" fill="#d37620"/>
<rect x="234.35" y="210.27" width="8.3" height="8.3" fill="#d37620"/>
<circle cx="81.81" cy="236.86" r="3.95" fill="none" stroke="#000" stroke-width="1.6"/><rect x="81.01" y="236.41" width="1.6" height="0.9" fill="#000"/>
<circle cx="98.59" cy="243.93" r="3.95" fill="none" stroke="#000" stroke-width="1.6"/><rect x="97.79" y="243.48" width="1.6" height="0.9" fill="#000"/>
<circle cx="124.84" cy="233.28" r="3.95" fill="none" stroke="#000" stroke-width="1.6"/><rect x="124.04" y="232.83" width="1.6" height="0.9" fill="#000"/>
<circle cx="181.5" cy="208.92" r="3.95" fill="none" stroke="#000" stroke-width="1.6"/><rect x="180.7" y="208.47" width="1.6" height="0.9" fill="#000"/>
<circle cx="238.5" cy="179.32" r="3.95" fill="none" stroke="#000" stroke-width="1.6"/><rect x="237.7" y="178.87" width="1.6" height="0.9" fill="#000"/>
<rect x="52" y="174.6" width="186.5" height="139.7" fill="none" stroke="#000" stroke-width="1"/>
<path d="M316.32 314.4v-4 M316.32 174.6v4 M385.76 314.4v-4 M385.76 174.6v4 M455.2 314.4v-4 M455.2 174.6v4 M281.6 308.7h4 M474.5 308.7h-4 M281.6 265.77h4 M474.5 265.77h-4 M281.6 222.84h4 M474.5 222.84h-4 M281.6 179.9h4 M474.5 179.9h-4" stroke="#000" stroke-width="0.85" fill="none"/>
<text x="275.9" y="313.4" text-anchor="end" class="t">1</text>
<text x="275.9" y="270.47" text-anchor="end" class="t">1.4</text>
<text x="275.9" y="227.54" text-anchor="end" class="t">1.8</text>
<text x="275.9" y="184.6" text-anchor="end" class="t">2.2</text>
<text x="283.3" y="328.4" text-anchor="middle" class="t">0</text>
<text x="318.02" y="328.4" text-anchor="middle" class="t">0.05</text>
<text x="387.46" y="328.4" text-anchor="middle" class="t">0.15</text>
<text x="456.9" y="328.4" text-anchor="middle" class="t">0.25</text>
<clipPath id="cd"><rect x="281.6" y="174.6" width="192.9" height="139.8"/></clipPath>
<g clip-path="url(#cd)">
<polyline points="281.6,311.3 281.6,311.3 281.8,311.3 282.0,311.3 282.2,311.3 282.6,311.3 283.0,311.3 283.5,311.3 284.1,311.3 284.8,311.3 285.0,311.3 285.5,311.3 286.4,311.3 287.3,311.3 288.3,311.3 288.5,311.3 289.3,311.3 291.9,311.3 295.4,311.3 298.8,311.4 302.3,311.4 305.7,311.4 309.2,311.5 312.6,311.5 316.0,311.6 319.5,311.7 322.9,311.8 326.4,311.9 329.8,311.9 333.3,311.9 336.7,311.9 340.2,311.8 343.6,311.8 347.0,311.7 350.5,311.6 353.9,311.6 357.4,311.5 360.8,311.4 364.3,311.3 367.7,311.1 371.2,310.9 374.6,310.7 378.1,310.5 381.5,310.3 384.9,309.9 388.4,309.5 391.8,309.1 395.3,308.6 398.7,308.1 402.2,307.6 405.6,307.0 409.1,306.4 412.5,305.9 415.9,305.3 419.4,304.7 422.8,304.1 426.3,303.4 429.7,302.7 433.2,302.0 436.6,301.2 440.1,300.5 443.5,299.8 446.9,299.2 450.4,298.5 453.8,297.8 457.3,297.1 460.7,296.5 464.2,295.8 467.6,295.1 471.1,294.4 474.5,293.8" fill="none" stroke="#ff0000" stroke-width="1.6" stroke-linejoin="round"/>
<polyline points="281.6,312.8 281.6,312.8 281.8,312.8 282.0,312.8 282.2,312.8 282.6,312.8 283.0,312.8 283.5,312.8 284.1,312.8 284.8,312.8 285.0,312.8 285.5,312.8 286.4,312.8 287.3,312.8 288.3,312.8 288.5,312.8 289.3,312.8 291.9,312.8 295.4,312.7 298.8,312.7 302.3,312.7 305.7,312.7 309.2,312.6 312.6,312.6 316.0,312.5 319.5,312.5 322.9,312.4 326.4,312.4 329.8,312.3 333.3,312.3 336.7,312.2 340.2,312.1 343.6,311.9 347.0,311.8 350.5,311.7 353.9,311.5 357.4,311.4 360.8,311.2 364.3,311.1 367.7,310.9 371.2,310.7 374.6,310.5 378.1,310.3 381.5,310.0 384.9,309.7 388.4,309.3 391.8,308.8 395.3,308.3 398.7,307.8 402.2,307.3 405.6,306.7 409.1,306.1 412.5,305.6 415.9,305.0 419.4,304.4 422.8,303.7 426.3,303.1 429.7,302.4 433.2,301.6 436.6,300.9 440.1,300.2 443.5,299.5 446.9,298.8 450.4,298.2 453.8,297.5 457.3,296.8 460.7,296.2 464.2,295.5 467.6,294.8 471.1,294.2 474.5,293.5" fill="none" stroke="#00ff00" stroke-width="1.6" stroke-linejoin="round"/>
<polyline points="281.6,313.0 281.6,313.0 281.8,313.0 282.0,313.0 282.2,313.0 282.6,313.0 283.0,313.0 283.5,313.0 284.1,313.0 284.8,312.9 285.0,312.9 285.5,312.9 286.4,312.9 287.3,312.9 288.3,312.9 288.5,312.9 289.3,312.9 291.9,312.8 295.4,312.7 298.8,312.6 302.3,312.5 305.7,312.4 309.2,312.3 312.6,312.1 316.0,312.0 319.5,311.8 322.9,311.6 326.4,311.5 329.8,311.3 333.3,311.1 336.7,310.9 340.2,310.7 343.6,310.5 347.0,310.2 350.5,310.0 353.9,309.8 357.4,309.5 360.8,309.3 364.3,309.0 367.7,308.7 371.2,308.4 374.6,308.1 378.1,307.7 381.5,307.3 384.9,306.9 388.4,306.4 391.8,305.8 395.3,305.2 398.7,304.6 402.2,304.0 405.6,303.4 409.1,302.8 412.5,302.2 415.9,301.5 419.4,300.9 422.8,300.3 426.3,299.6 429.7,299.0 433.2,298.3 436.6,297.6 440.1,297.0 443.5,296.3 446.9,295.6 450.4,294.9 453.8,294.3 457.3,293.6 460.7,292.9 464.2,292.2 467.6,291.5 471.1,290.8 474.5,290.1" fill="none" stroke="#0000ff" stroke-width="1.6" stroke-linejoin="round"/>
<polyline points="281.6,297.0 281.6,297.0 281.8,297.0 282.0,297.0 282.2,297.0 282.6,297.0 283.0,297.0 283.5,297.0 284.1,297.0 284.8,297.0 285.0,297.0 285.5,297.0 286.4,297.0 287.3,297.0 288.3,297.0 288.5,297.0 289.3,297.0 291.9,297.0 295.4,297.0 298.8,297.0 302.3,297.0 305.7,297.0 309.2,297.0 312.6,297.0 316.0,296.9 319.5,296.9 322.9,296.9 326.4,296.9 329.8,296.9 333.3,296.9 336.7,296.9 340.2,296.8 343.6,296.8 347.0,296.8 350.5,296.7 353.9,296.7 357.4,296.6 360.8,296.6 364.3,296.5 367.7,296.4 371.2,296.3 374.6,296.2 378.1,296.1 381.5,296.0 384.9,295.7 388.4,295.4 391.8,295.0 395.3,294.6 398.7,294.3 402.2,293.9 405.6,293.5 409.1,293.0 412.5,292.6 415.9,292.0 419.4,291.3 422.8,290.6 426.3,289.7 429.7,288.7 433.2,287.7 436.6,286.7 440.1,285.6 443.5,284.6 446.9,283.6 450.4,282.6 453.8,281.5 457.3,280.4 460.7,279.3 464.2,278.2 467.6,277.0 471.1,275.9 474.5,274.7" fill="none" stroke="#ff00ff" stroke-width="1.6" stroke-linejoin="round"/>
<polyline points="281.6,269.6 281.6,269.6 281.8,269.6 282.0,269.6 282.2,269.6 282.6,269.6 283.0,269.6 283.5,269.6 284.1,269.6 284.8,269.6 285.0,269.6 285.5,269.6 286.4,269.6 287.3,269.6 288.3,269.6 288.5,269.6 289.3,269.6 291.9,269.6 295.4,269.6 298.8,269.6 302.3,269.6 305.7,269.6 309.2,269.6 312.6,269.6 316.0,269.6 319.5,269.5 322.9,269.5 326.4,269.5 329.8,269.5 333.3,269.5 336.7,269.5 340.2,269.5 343.6,269.5 347.0,269.5 350.5,269.5 353.9,269.5 357.4,269.5 360.8,269.5 364.3,269.5 367.7,269.5 371.2,269.4 374.6,269.4 378.1,269.4 381.5,269.4 384.9,269.3 388.4,269.2 391.8,269.1 395.3,268.9 398.7,268.6 402.2,268.4 405.6,268.1 409.1,267.8 412.5,267.5 415.9,267.1 419.4,266.7 422.8,266.2 426.3,265.5 429.7,264.8 433.2,264.1 436.6,263.2 440.1,262.4 443.5,261.5 446.9,260.6 450.4,259.6 453.8,258.6 457.3,257.5 460.7,256.3 464.2,255.0 467.6,253.7 471.1,252.4 474.5,251.0" fill="none" stroke="#00ffff" stroke-width="1.6" stroke-linejoin="round"/>
<polyline points="281.6,235.6 281.6,235.6 281.8,235.6 282.0,235.6 282.2,235.6 282.6,235.6 283.0,235.6 283.5,235.6 284.1,235.6 284.8,235.6 285.0,235.6 285.5,235.6 286.4,235.6 287.3,235.6 288.3,235.6 288.5,235.6 289.3,235.6 291.9,235.6 295.4,235.6 298.8,235.6 302.3,235.5 305.7,235.5 309.2,235.5 312.6,235.4 316.0,235.4 319.5,235.3 322.9,235.3 326.4,235.2 329.8,235.2 333.3,235.1 336.7,234.9 340.2,234.7 343.6,234.4 347.0,234.1 350.5,233.8 353.9,233.4 357.4,233.0 360.8,232.5 364.3,231.9 367.7,231.2 371.2,230.4 374.6,229.6 378.1,228.8 381.5,228.0 384.9,227.2 388.4,226.3 391.8,225.5 395.3,224.6 398.7,223.7 402.2,222.8 405.6,221.9 409.1,220.9 412.5,219.9 415.9,218.9 419.4,217.8 422.8,216.6 426.3,215.4 429.7,214.1 433.2,212.8 436.6,211.5 440.1,210.2 443.5,208.9 446.9,207.6 450.4,206.4 453.8,205.1 457.3,203.8 460.7,202.4 464.2,201.1 467.6,199.8 471.1,198.4 474.5,197.1" fill="none" stroke="#d37620" stroke-width="1.6" stroke-linejoin="round"/>
<polyline points="281.6,204.1 281.6,204.1 281.8,204.1 282.0,204.1 282.2,204.1 282.6,204.1 283.0,204.1 283.5,204.1 284.1,204.1 284.8,204.1 285.0,204.1 285.5,204.1 286.4,204.1 287.3,204.1 288.3,204.1 288.5,204.1 289.3,204.1 291.9,204.1 295.4,204.1 298.8,204.1 302.3,204.1 305.7,204.1 309.2,204.1 312.6,204.1 316.0,204.1 319.5,204.1 322.9,204.1 326.4,204.1 329.8,204.1 333.3,204.0 336.7,204.0 340.2,204.0 343.6,203.9 347.0,203.9 350.5,203.8 353.9,203.7 357.4,203.6 360.8,203.5 364.3,203.4 367.7,203.3 371.2,203.1 374.6,203.0 378.1,202.9 381.5,202.7 384.9,202.4 388.4,202.1 391.8,201.7 395.3,201.2 398.7,200.6 402.2,200.0 405.6,199.3 409.1,198.7 412.5,197.9 415.9,197.2 419.4,196.4 422.8,195.4 426.3,194.3 429.7,193.1 433.2,191.9 436.6,190.6 440.1,189.4 443.5,188.1 446.9,186.9 450.4,185.6 453.8,184.3 457.3,183.0 460.7,181.7 464.2,180.3 467.6,179.0 471.1,177.6 474.5,176.1" fill="none" stroke="#000000" stroke-width="1.6" stroke-linejoin="round"/>
</g>
<circle cx="312.43" cy="308.7" r="4.25" fill="#ff0000"/>
<circle cx="329.79" cy="315.25" r="4.25" fill="#ff0000"/>
<circle cx="356.94" cy="310.74" r="4.25" fill="#ff0000"/>
<circle cx="415.55" cy="306.34" r="4.25" fill="#ff0000"/>
<circle cx="474.5" cy="294.1" r="4.25" fill="#ff0000"/>
<polygon points="312.43,303.85 308.13,311.15 316.73,311.15" fill="#00ff00"/>
<polygon points="329.79,309.75 325.49,317.05 334.09,317.05" fill="#00ff00"/>
<polygon points="356.94,306.86 352.64,314.16 361.24,314.16" fill="#00ff00"/>
<polygon points="415.55,300.63 411.25,307.93 419.85,307.93" fill="#00ff00"/>
<polygon points="474.5,288.82 470.2,296.12 478.8,296.12" fill="#00ff00"/>
<polygon points="312.43,316.56 308.13,309.26 316.73,309.26" fill="#0000ff"/>
<polygon points="329.79,319.45 325.49,312.15 334.09,312.15" fill="#0000ff"/>
<polygon points="356.94,314.62 352.64,307.32 361.24,307.32" fill="#0000ff"/>
<polygon points="415.55,306.47 411.25,299.17 419.85,299.17" fill="#0000ff"/>
<polygon points="474.5,295.3 470.2,288 478.8,288" fill="#0000ff"/>
<polygon points="312.43,288.26 316.75,292.71 312.43,297.16 308.11,292.71" fill="#ff00ff"/>
<polygon points="329.79,292.55 334.11,297 329.79,301.45 325.47,297" fill="#ff00ff"/>
<polygon points="356.94,296.31 361.26,300.76 356.94,305.21 352.62,300.76" fill="#ff00ff"/>
<polygon points="415.55,287.61 419.86,292.06 415.55,296.51 411.23,292.06" fill="#ff00ff"/>
<polygon points="474.5,270.23 478.82,274.68 474.5,279.13 470.18,274.68" fill="#ff00ff"/>
<polygon points="312.43,266.52 316.62,269.56 315.02,274.48 309.84,274.48 308.25,269.56" fill="#00ffff"/>
<polygon points="329.79,261.58 333.97,264.62 332.38,269.54 327.2,269.54 325.61,264.62" fill="#00ffff"/>
<polygon points="356.94,266.41 361.13,269.45 359.53,274.37 354.35,274.37 352.76,269.45" fill="#00ffff"/>
<polygon points="415.55,262.76 419.73,265.8 418.13,270.72 412.96,270.72 411.36,265.8" fill="#00ffff"/>
<polygon points="474.5,246.34 478.68,249.38 477.09,254.3 471.91,254.3 470.32,249.38" fill="#00ffff"/>
<rect x="325.64" y="228.99" width="8.3" height="8.3" fill="#d37620"/>
<rect x="352.79" y="231.14" width="8.3" height="8.3" fill="#d37620"/>
<rect x="411.4" y="214.82" width="8.3" height="8.3" fill="#d37620"/>
<rect x="470.35" y="192.93" width="8.3" height="8.3" fill="#d37620"/>
<circle cx="329.79" cy="199.01" r="3.95" fill="none" stroke="#000" stroke-width="1.6"/><rect x="328.99" y="198.56" width="1.6" height="0.9" fill="#000"/>
<circle cx="356.94" cy="209.96" r="3.95" fill="none" stroke="#000" stroke-width="1.6"/><rect x="356.14" y="209.51" width="1.6" height="0.9" fill="#000"/>
<circle cx="415.55" cy="195.68" r="3.95" fill="none" stroke="#000" stroke-width="1.6"/><rect x="414.75" y="195.23" width="1.6" height="0.9" fill="#000"/>
<circle cx="474.5" cy="175.07" r="3.95" fill="none" stroke="#000" stroke-width="1.6"/><rect x="473.7" y="174.62" width="1.6" height="0.9" fill="#000"/>
<rect x="281.6" y="174.6" width="192.9" height="139.8" fill="none" stroke="#000" stroke-width="1"/>
<text transform="translate(102 22.7) scale(0.96 1)" text-anchor="end" font-size="15.6">E=-2.0</text>
<polygon points="122,13.6 126.18,16.64 124.59,21.56 119.41,21.56 117.82,16.64" fill="#00ffff"/>
<text transform="translate(102 41.7) scale(0.96 1)" text-anchor="end" font-size="15.6">E=-2.5</text>
<rect x="117.85" y="32.35" width="8.3" height="8.3" fill="#d37620"/>
<text transform="translate(102 60.5) scale(0.96 1)" text-anchor="end" font-size="15.6">E=-2.7</text>
<circle cx="122" cy="55.4" r="3.95" fill="none" stroke="#000" stroke-width="1.6"/><rect x="121.2" y="54.95" width="1.6" height="0.9" fill="#000"/>
<text transform="translate(335 22.7) scale(0.96 1)" text-anchor="end" font-size="15.6">E=0.0</text>
<circle cx="354.6" cy="17.7" r="4.25" fill="#ff0000"/>
<text transform="translate(335 41.7) scale(0.96 1)" text-anchor="end" font-size="15.6">E=-0.5</text>
<polygon points="354.6,31.75 350.3,39.05 358.9,39.05" fill="#00ff00"/>
<text transform="translate(335 60.5) scale(0.96 1)" text-anchor="end" font-size="15.6">E=-1.0</text>
<polygon points="354.6,60.25 350.3,52.95 358.9,52.95" fill="#0000ff"/>
<text transform="translate(335 79.4) scale(0.96 1)" text-anchor="end" font-size="15.6">E=-1.5</text>
<polygon points="354.6,70.05 358.92,74.5 354.6,78.95 350.28,74.5" fill="#ff00ff"/>
<text transform="translate(136 27.7) scale(0.96 1)" text-anchor="start" font-size="15.6">(a) V=0.25t<tspan dy="5.2" font-size="12.6">0</tspan></text>
<text transform="translate(368.5 27.7) scale(0.96 1)" text-anchor="start" font-size="15.6">(b) V=0.5t<tspan dy="5.2" font-size="12.6">0</tspan></text>
<text transform="translate(71 192.6) scale(0.96 1)" text-anchor="start" font-size="15.6">(c) V=1.0t<tspan dy="5.2" font-size="12.6">0</tspan></text>
<text transform="translate(301.6 192.8) scale(0.96 1)" text-anchor="start" font-size="15.6">(d) V=2.0t<tspan dy="5.2" font-size="12.6">0</tspan></text>
<text x="106.8" y="343.9" font-size="16.75">(1/N)X10<tspan dy="-7.3" font-size="12.4">-3</tspan></text>
<text x="339.2" y="343.9" font-size="16.75">(1/N)X10<tspan dy="-7.3" font-size="12.4">-3</tspan></text>
<g transform="translate(19.8 0) rotate(-90)">
<text transform="translate(-121.2 0) scale(0.9 1)" text-anchor="middle" font-size="17.1">(</text>
<text transform="translate(-115.4 0) scale(0.85 1)" text-anchor="middle" font-size="17.1">1</text>
<text transform="translate(-108.7 0) scale(0.8 1)" text-anchor="middle" font-size="17.1">/</text>
<text transform="translate(-101 0) scale(0.8 1)" text-anchor="middle" font-size="17.1">ξ</text>
<text transform="translate(-94.5 3.6) scale(0.95 1)" text-anchor="middle" font-size="13.2">l</text>
<text transform="translate(-89.95 -7.8) scale(0.95 1)" text-anchor="middle" font-size="13.2">2</text>
<text transform="translate(-86.3 0) scale(0.94 1)" text-anchor="start" font-size="17.1">) X10</text>
<text transform="translate(-46.9 -7.8) scale(0.95 1)" text-anchor="start" font-size="13.2">-3</text>
</g>
<g transform="translate(19.8 0) rotate(-90)">
<text transform="translate(-286.3 0) scale(0.9 1)" text-anchor="middle" font-size="17.1">(</text>
<text transform="translate(-280.5 0) scale(0.85 1)" text-anchor="middle" font-size="17.1">1</text>
<text transform="translate(-273.8 0) scale(0.8 1)" text-anchor="middle" font-size="17.1">/</text>
<text transform="translate(-266.1 0) scale(0.8 1)" text-anchor="middle" font-size="17.1">ξ</text>
<text transform="translate(-259.6 3.6) scale(0.95 1)" text-anchor="middle" font-size="13.2">l</text>
<text transform="translate(-255.05 -7.8) scale(0.95 1)" text-anchor="middle" font-size="13.2">2</text>
<text transform="translate(-251.4 0) scale(0.94 1)" text-anchor="start" font-size="17.1">) X10</text>
<text transform="translate(-212 -7.8) scale(0.95 1)" text-anchor="start" font-size="13.2">-3</text>
</g>
</svg>
</body></html>
